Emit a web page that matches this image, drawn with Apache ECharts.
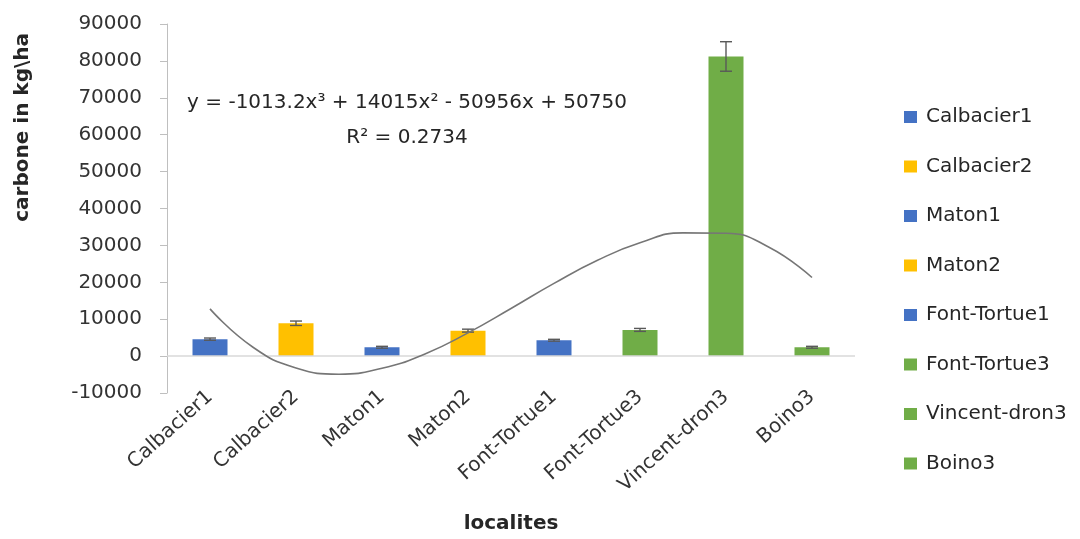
<!DOCTYPE html>
<html>
<head>
<meta charset="utf-8">
<script src="https://cdn.jsdelivr.net/npm/echarts@6/dist/echarts.min.js"></script>
<style>
  html, body { margin: 0; padding: 0; background: #fff; }
  #chart { width: 1080px; height: 539px; }
</style>
</head>
<body>
<div id="chart"></div>
<script>
// localities on the x axis
const sites = ['Calbacier1', 'Calbacier2', 'Maton1', 'Maton2', 'Font-Tortue1', 'Font-Tortue3', 'Vincent-dron3', 'Boino3'];
// carbone (kg/ha)
const carbon = [4600, 8900, 2400, 6900, 4300, 7100, 81200, 2400];
// half-width of the error bars
const errors = [300, 600, 250, 400, 250, 400, 4000, 250];
// bar colours per locality
const siteColors = ['#4472C4', '#FFC000', '#4472C4', '#FFC000', '#4472C4', '#70AD47', '#70AD47', '#70AD47'];
// trendline, every half category (x = 1 .. 8)
const trendX = [1, 1.5, 2, 2.5, 3, 3.5, 4, 4.5, 5, 5.5, 6, 6.5, 7, 7.5, 8];
const trendY = [12800, 2400, -3200, -4900, -3300, 600, 6300, 12900, 19700, 25900, 30700, 33400, 33300, 29500, 21300];

const FONT = '"DejaVu Sans", sans-serif';

const chart = echarts.init(document.getElementById('chart'));

let series = [];
for (let i = 0; i < sites.length; i++) {
    let d = sites.map((s, j) => (j === i ? carbon[j] : '-'));
    series.push({
        name: sites[i],
        type: 'bar',
        stack: 'all',
        data: d,
        barWidth: 35,
        itemStyle: { color: siteColors[i] },
        xAxisIndex: 0,
        yAxisIndex: 0,
    });
}

// error bars
series.push({
    name: 'err',
    type: 'custom',
    xAxisIndex: 0,
    yAxisIndex: 0,
    z: 5,
    data: carbon.map((v, i) => [i, v - errors[i], v + errors[i]]),
    renderItem: function (params, api) {
        let lo = api.coord([api.value(0), api.value(1)]);
        let hi = api.coord([api.value(0), api.value(2)]);
        let w = 6;
        let st = { stroke: '#595959', lineWidth: 1.4 };
        return {
            type: 'group',
            children: [
                { type: 'line', shape: { x1: hi[0], y1: hi[1], x2: lo[0], y2: lo[1] }, style: st },
                { type: 'line', shape: { x1: hi[0] - w, y1: hi[1], x2: hi[0] + w, y2: hi[1] }, style: st },
                { type: 'line', shape: { x1: lo[0] - w, y1: lo[1], x2: lo[0] + w, y2: lo[1] }, style: st },
            ],
        };
    },
});

// polynomial trendline
series.push({
    name: 'trend',
    type: 'line',
    xAxisIndex: 1,
    yAxisIndex: 0,
    smooth: true,
    symbol: 'none',
    z: 6,
    lineStyle: { color: '#767676', width: 1.6 },
    data: trendX.map((x, i) => [x, trendY[i]]),
    markLine: {
        silent: true,
        symbol: 'none',
        label: { show: false },
        lineStyle: { color: '#d9d9d9', type: 'solid', width: 1.5 },
        data: [{ yAxis: 0 }],
    },
});

chart.setOption({
    animation: false,
    textStyle: { fontFamily: FONT },
    grid: { left: 167, right: 225, top: 24, bottom: 143 },
    legend: {
        orient: 'vertical',
        left: 899,
        top: 101,
        data: sites,
        icon: 'rect',
        itemWidth: 13,
        itemHeight: 12,
        itemGap: 27.5,
        textStyle: { fontFamily: FONT, fontSize: 20, lineHeight: 22, color: '#262626', padding: [0, 0, 0, 4] },
    },
    xAxis: [
        {
            type: 'category',
            data: sites,
            axisLine: { show: false, onZero: false },
            axisTick: { show: false },
            axisLabel: { rotate: 42, fontSize: 20, color: '#333', margin: 1, fontFamily: FONT },
            name: 'localites',
            nameLocation: 'middle',
            nameGap: 121,
            nameTextStyle: { fontSize: 20, fontWeight: 'bold', color: '#262626', fontFamily: FONT },
        },
        { type: 'value', min: 0.5, max: 8.5, show: false },
    ],
    yAxis: {
        type: 'value',
        min: -10000,
        max: 90000,
        interval: 10000,
        splitLine: { show: false },
        axisLine: { show: true, lineStyle: { color: '#bfbfbf' } },
        axisTick: { show: true, length: 7, lineStyle: { color: '#bfbfbf' } },
        axisLabel: {
            fontSize: 20, color: '#333', margin: 25, fontFamily: FONT,
            formatter: v => String(v),
        },
    },
    graphic: [
        {
            type: 'text',
            left: 13,
            top: 33,
            rotation: Math.PI / 2,
            style: { text: 'carbone in kg\\ha', font: 'bold 20px ' + FONT, fill: '#262626' },
        },
        {
            type: 'text',
            x: 407,
            y: 103,
            style: {
                text: 'y = -1013.2x³ + 14015x² - 50956x + 50750',
                font: '20px ' + FONT, fill: '#262626', textAlign: 'center', textVerticalAlign: 'middle',
            },
        },
        {
            type: 'text',
            x: 407,
            y: 138,
            style: {
                text: 'R² = 0.2734',
                font: '20px ' + FONT, fill: '#262626', textAlign: 'center', textVerticalAlign: 'middle',
            },
        },
    ],
    series: series,
});
</script>
</body>
</html>
